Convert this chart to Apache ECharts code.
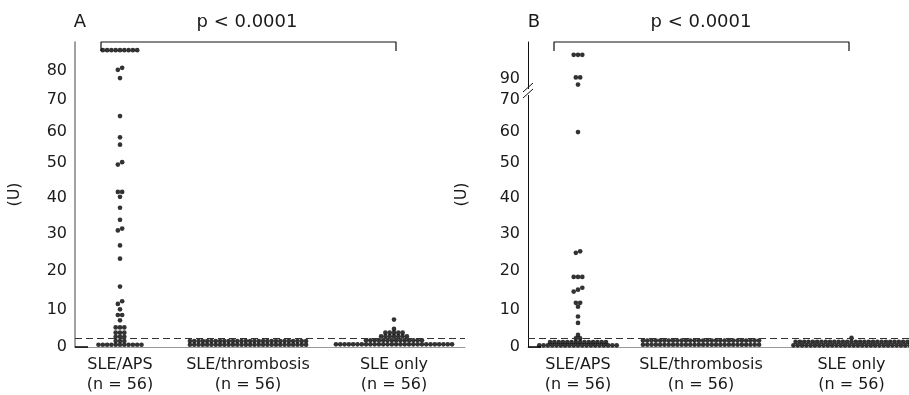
<!DOCTYPE html>
<html>
<head>
<meta charset="utf-8">
<script src="https://cdn.jsdelivr.net/npm/echarts@6/dist/echarts.min.js"></script>
<style>
  html, body { margin: 0; background: #fff; }
  #chart { width: 909px; height: 395px; }
</style>
</head>
<body>
<div id="chart"></div>
<script>
const categories = ['SLE/APS\n(n = 56)', 'SLE/thrombosis\n(n = 56)', 'SLE only\n(n = 56)'];
const ticksA = [0, 10, 20, 30, 40, 50, 60, 70, 80];
const ticksB = [0, 10, 20, 30, 40, 50, 60, 70, 90];
const cutoff = 2.2;

// Panel A (U)
const aApsValues = [
  0.6, 0.6, 0.6, 0.6, 0.6, 0.6, 0.6, 0.6, 0.6, 0.6, 0.6,
  1.6, 1.6, 1.6, 2.7, 2.7, 2.7, 3.8, 3.8, 3.8, 5.2, 5.2, 5.2,
  7.1, 8.5, 8.5, 10, 11.4, 12.1, 15.9, 23.3, 26.9, 31, 31.5, 33.9, 37.2,
  40.2, 41.6, 41.6, 49.5, 50.2, 55.9, 58.3, 65, 77.5, 80.3, 81,
  87, 87, 87, 87, 87, 87, 87, 87, 87
];
const aThrombosisValues = [
  0.6, 0.6, 0.6, 0.6, 0.6, 0.6, 0.6, 0.6, 0.6, 0.6, 0.6, 0.6, 0.6, 0.6,
  0.6, 0.6, 0.6, 0.6, 0.6, 0.6, 0.6, 0.6, 0.6, 0.6, 0.6, 0.6, 0.6, 0.6,
  1.6, 1.6, 1.6, 1.6, 1.6, 1.6, 1.6, 1.6, 1.6, 1.6, 1.6, 1.6, 1.6, 1.6,
  1.6, 1.6, 1.6, 1.6, 1.6, 1.6, 1.6, 1.6, 1.6, 1.6, 1.6, 1.6, 1.6, 1.6
];
const aSleOnlyValues = [
  0.7, 0.7, 0.7, 0.7, 0.7, 0.7, 0.7, 0.7, 0.7, 0.7, 0.7, 0.7, 0.7, 0.7,
  0.7, 0.7, 0.7, 0.7, 0.7, 0.7, 0.7, 0.7, 0.7, 0.7, 0.7, 0.7, 0.7, 0.7,
  1.8, 1.8, 1.8, 1.8, 1.8, 1.8, 1.8, 1.8, 1.8, 1.8, 1.8, 1.8, 1.8, 1.8,
  2.8, 2.8, 2.8, 2.8, 2.8, 2.8, 2.8, 3.8, 3.8, 3.8, 3.8, 3.8, 4.8, 7.3
];

// Panel B (U)
const bApsValues = [
  0.45, 0.45, 0.45, 0.45, 0.45, 0.45, 0.45, 0.45, 0.45, 0.45,
  0.45, 0.45, 0.45, 0.45, 0.45, 0.45, 0.45, 0.45, 0.45,
  1.3, 1.3, 1.3, 1.3, 1.3, 1.3, 1.3, 1.3, 1.3, 1.3, 1.3, 1.3, 1.3, 1.3,
  2.3, 2.3, 3.2, 6.4, 8.1, 10.7, 11.7, 11.7, 14.6, 15.1, 15.6,
  18.4, 18.4, 18.4, 24.9, 25.3, 60, 87.6, 90.4, 90.4, 98, 98, 98
];
const bThrombosisValues = [
  0.6, 0.6, 0.6, 0.6, 0.6, 0.6, 0.6, 0.6, 0.6, 0.6, 0.6, 0.6, 0.6, 0.6,
  0.6, 0.6, 0.6, 0.6, 0.6, 0.6, 0.6, 0.6, 0.6, 0.6, 0.6, 0.6, 0.6, 0.6,
  1.7, 1.7, 1.7, 1.7, 1.7, 1.7, 1.7, 1.7, 1.7, 1.7, 1.7, 1.7, 1.7, 1.7,
  1.7, 1.7, 1.7, 1.7, 1.7, 1.7, 1.7, 1.7, 1.7, 1.7, 1.7, 1.7, 1.7, 1.7
];
const bSleOnlyValues = [
  0.45, 0.45, 0.45, 0.45, 0.45, 0.45, 0.45, 0.45, 0.45, 0.45, 0.45, 0.45, 0.45, 0.45,
  0.45, 0.45, 0.45, 0.45, 0.45, 0.45, 0.45, 0.45, 0.45, 0.45, 0.45, 0.45, 0.45, 0.45,
  1.4, 1.4, 1.4, 1.4, 1.4, 1.4, 1.4, 1.4, 1.4, 1.4, 1.4, 1.4, 1.4, 1.4,
  1.4, 1.4, 1.4, 1.4, 1.4, 1.4, 1.4, 1.4, 1.4, 1.4, 1.4, 1.4, 1.4, 2.4
];

// ---- layout ----
const FONT = '"DejaVu Sans", sans-serif';
const INK = '#1a1a1a';
const PLOT_H = 308;          // y axis runs in px-like display units
const DOT_STEP = 4.3;
const ROW_TOL = 2.8;

// the printed axis is not linear: tick value -> height above baseline
const scaleA = { vals: [0, 10, 20, 30, 40, 50, 60, 70, 80], pos: [0, 38, 77, 114, 151, 186, 217, 249.3, 279] };
const scaleB = { vals: [0, 10, 20, 30, 40, 50, 60, 70, 72, 86, 90, 100], pos: [0, 38, 77, 114, 151, 186, 217, 249.3, 255, 261, 271, 301] };

function toPos(scale, v) {
  const { vals, pos } = scale;
  let i = 0;
  while (i < vals.length - 2 && v > vals[i + 1]) i++;
  const t = (v - vals[i]) / (vals[i + 1] - vals[i]);
  return pos[i] + t * (pos[i + 1] - pos[i]);
}

// dot-plot layout: close values share a row and spread sideways
function layoutDots(values, center, scale) {
  const ys = values.slice().sort((a, b) => a - b).map((v) => toPos(scale, v));
  const rows = [];
  let prev = null;
  ys.forEach((y) => {
    if (prev !== null && y - prev < ROW_TOL) rows[rows.length - 1].push(y);
    else rows.push([y]);
    prev = y;
  });
  const pts = [];
  rows.forEach((r) => {
    r.forEach((y, i) => pts.push([center + (i - (r.length - 1) / 2) * DOT_STEP, y]));
  });
  return pts;
}

const panels = [
  { left: 75, width: 390, centers: [45, 173, 319], scale: scaleA, ticks: ticksA,
    groups: [aApsValues, aThrombosisValues, aSleOnlyValues],
    axisColor: '#8a8a8a', axisWidth: 1.6, nameGap: 52 },
  { left: 528, width: 381, centers: [50, 173, 323.5], scale: scaleB, ticks: ticksB,
    groups: [bApsValues, bThrombosisValues, bSleOnlyValues],
    axisColor: '#111', axisWidth: 1, nameGap: 58 }
];

const grid = [], xAxis = [], yAxis = [], series = [];
panels.forEach((p, k) => {
  grid.push({ left: p.left, top: 42, width: p.width, height: PLOT_H });
  xAxis.push({
    gridIndex: k, type: 'value', min: 0, max: p.width,
    axisLine: { show: true, lineStyle: { color: '#9a9a9a', width: 1 } },
    axisTick: { show: false }, splitLine: { show: false },
    axisLabel: {
      customValues: p.centers,
      formatter: (v) => {
        const i = p.centers.findIndex((c) => Math.abs(c - v) < 0.5);
        return i >= 0 ? categories[i] : '';
      },
      fontFamily: FONT, fontSize: 16, lineHeight: 20, color: INK, margin: 8
    }
  });
  const tickPos = p.ticks.map((t) => toPos(p.scale, t));
  yAxis.push({
    gridIndex: k, type: 'value', min: 0, max: PLOT_H,
    name: '(U)', nameLocation: 'middle', nameGap: p.nameGap, nameRotate: 90,
    nameTextStyle: { fontFamily: FONT, fontSize: 16, color: INK },
    axisLine: { show: true, lineStyle: { color: p.axisColor, width: p.axisWidth } },
    axisTick: { show: false }, splitLine: { show: false },
    axisLabel: {
      customValues: tickPos,
      formatter: (v) => {
        const i = tickPos.findIndex((c) => Math.abs(c - v) < 0.5);
        return i >= 0 ? String(p.ticks[i]) : '';
      },
      fontFamily: FONT, fontSize: 16, color: INK, margin: 8
    }
  });

  const pts = [];
  p.groups.forEach((g, i) => pts.push(...layoutDots(g, p.centers[i], p.scale)));
  series.push({
    type: 'scatter', xAxisIndex: k, yAxisIndex: k, data: pts,
    symbol: 'circle', symbolSize: 4.7, clip: false, silent: true,
    itemStyle: { color: '#000' },
    markLine: {
      silent: true, symbol: 'none', label: { show: false },
      lineStyle: { color: '#333', width: 1, type: [7, 4] },
      data: [{ yAxis: toPos(p.scale, cutoff) }]
    },
    z: 3
  });
  // significance bracket
  series.push({
    type: 'line', xAxisIndex: k, yAxisIndex: k, silent: true, symbol: 'none', clip: false,
    data: [[26, PLOT_H - 9], [26, PLOT_H], [321, PLOT_H], [321, PLOT_H - 9]],
    lineStyle: { color: '#111', width: 1.2 }
  });
  // short dark stub at origin
  series.push({
    type: 'line', xAxisIndex: k, yAxisIndex: k, silent: true, symbol: 'none', clip: false,
    data: [[0, 0], [13, 0]],
    lineStyle: { color: '#000', width: 1.5 }, z: 4
  });
});

const textEl = (x, y, text, size, align) => ({
  type: 'text', x, y, silent: true,
  style: { text, font: `${size}px ${FONT}`, fill: INK, align: align || 'center', verticalAlign: 'middle' }
});

const breakY = 350 - 258;
const graphic = [
  textEl(80, 22, 'A', 18),
  textEl(247, 22, 'p < 0.0001', 18),
  textEl(534, 22, 'B', 18),
  textEl(701, 22, 'p < 0.0001', 18),
  { type: 'rect', shape: { x: 524, y: breakY - 3, width: 8, height: 6 }, style: { fill: '#fff' }, z: 100 },
  { type: 'line', shape: { x1: 523, y1: breakY, x2: 533, y2: breakY - 9 }, style: { stroke: '#111', lineWidth: 1 }, z: 101 },
  { type: 'line', shape: { x1: 523, y1: breakY + 6, x2: 533, y2: breakY - 3 }, style: { stroke: '#111', lineWidth: 1 }, z: 101 }
];

const chart = echarts.init(document.getElementById('chart'), null, { renderer: 'canvas' });
chart.setOption({ animation: false, grid, xAxis, yAxis, series, graphic });
</script>
</body>
</html>
